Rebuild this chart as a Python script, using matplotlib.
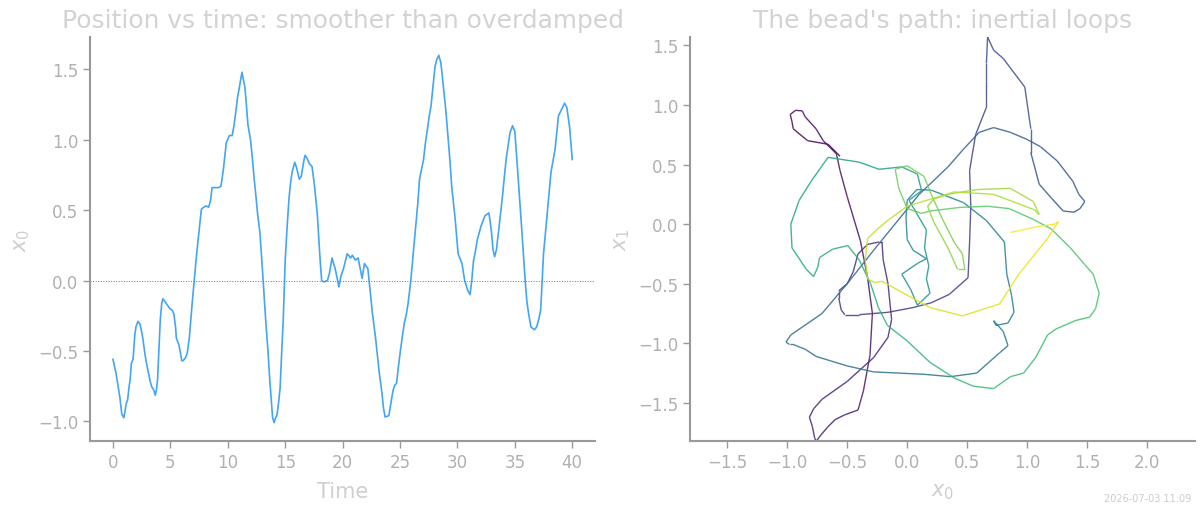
import numpy as np
import matplotlib
matplotlib.use("Agg")
import matplotlib.pyplot as plt
from matplotlib.collections import LineCollection

# ---- data ----
t = [0.0, 0.27, 0.6, 0.77, 0.85, 0.94, 1.05, 1.15, 1.27, 1.4, 1.5, 1.6, 1.75, 1.8, 1.9, 2.0,
     2.18, 2.35, 2.5, 2.6, 2.78, 2.95, 3.1, 3.25, 3.38, 3.5, 3.6, 3.68, 3.78, 3.88, 4.0,
     4.12, 4.25, 4.35, 4.62, 4.95, 5.15, 5.3, 5.45, 5.52, 5.72, 5.85, 5.99, 6.1, 6.3,
     6.46, 6.66, 6.9, 7.13, 7.3, 7.5, 7.7, 7.9, 8.13, 8.33, 8.5, 8.63, 8.97, 9.2, 9.4,
     9.5, 9.63, 9.87, 10.14, 10.38, 10.54, 10.7, 10.85, 11.04, 11.15, 11.24, 11.35,
     11.48, 11.62, 11.75, 11.98, 12.15, 12.3, 12.45, 12.6, 12.8, 13.0, 13.3, 13.5,
     13.66, 13.9, 14.03, 14.15, 14.3, 14.45, 14.56, 14.7, 14.83, 15.0, 15.15, 15.33,
     15.45, 15.6, 15.83, 16.0, 16.23, 16.4, 16.6, 16.73, 16.9, 17.1, 17.34, 17.57,
     17.8, 18.0, 18.1, 18.18, 18.34, 18.68, 18.85, 19.08, 19.35, 19.68, 19.85, 20.08,
     20.4, 20.7, 20.85, 21.1, 21.35, 21.7, 21.9, 22.2, 22.36, 22.6, 22.86, 23.2, 23.43,
     23.55, 23.7, 24.03, 24.27, 24.4, 24.54, 24.7, 24.85, 25.04, 25.2, 25.37, 25.55,
     25.7, 25.94, 26.15, 26.38, 26.55, 26.7, 27.05, 27.2, 27.38, 27.55, 27.7, 27.9,
     28.05, 28.2, 28.38, 28.55, 28.65, 28.8, 29.0, 29.15, 29.35, 29.5, 29.8, 30.06,
     30.4, 30.63, 30.9, 31.1, 31.25, 31.4, 31.55, 31.73, 32.07, 32.4, 32.74, 32.85,
     32.97, 33.1, 33.24, 33.4, 33.57, 33.9, 34.24, 34.58, 34.8, 35.0, 35.3, 35.58,
     35.9, 36.05, 36.2, 36.4, 36.7, 36.9, 37.1, 37.25, 37.5, 37.8, 38.15, 38.5, 38.8,
     39.1, 39.33, 39.53, 39.77, 40.0]

x0 = [-0.56, -0.66, -0.83, -0.95, -0.96, -0.975, -0.93, -0.875, -0.85, -0.76, -0.70, -0.59,
      -0.56, -0.5, -0.39, -0.33, -0.29, -0.31, -0.365, -0.41, -0.52, -0.6, -0.66, -0.72,
      -0.756, -0.77, -0.79, -0.815, -0.78, -0.71, -0.5, -0.28, -0.16, -0.13, -0.16, -0.2,
      -0.21, -0.235, -0.33, -0.41, -0.45, -0.5, -0.57, -0.57, -0.55, -0.52, -0.4, -0.16,
      0.05, 0.2, 0.35, 0.507, 0.52, 0.53, 0.52, 0.57, 0.66, 0.66, 0.66, 0.67, 0.72, 0.80,
      0.98, 1.03, 1.03, 1.10, 1.2, 1.30, 1.39, 1.44, 1.48, 1.43, 1.38, 1.25, 1.11, 1.0,
      0.86, 0.72, 0.6, 0.47, 0.34, 0.1, -0.28, -0.5, -0.71, -0.97, -1.01, -0.98, -0.95,
      -0.85, -0.76, -0.5, -0.28, 0.14, 0.36, 0.58, 0.68, 0.77, 0.84, 0.80, 0.72, 0.74,
      0.84, 0.89, 0.87, 0.83, 0.81, 0.66, 0.47, 0.2, 0.08, 0.0, -0.01, 0.0, 0.05, 0.16,
      0.085, -0.045, 0.03, 0.085, 0.19, 0.16, 0.18, 0.145, 0.16, 0.015, 0.12, 0.085,
      -0.045, -0.235, -0.4, -0.66, -0.8, -0.9, -0.97, -0.96, -0.84, -0.78, -0.745, -0.73,
      -0.62, -0.495, -0.4, -0.305, -0.24, -0.165, 0.0, 0.19, 0.39, 0.55, 0.72, 0.86,
      0.97, 1.07, 1.17, 1.24, 1.40, 1.52, 1.57, 1.6, 1.55, 1.48, 1.36, 1.2, 1.05, 0.85,
      0.67, 0.44, 0.19, 0.12, 0.0, -0.07, -0.10, 0.0, 0.14, 0.2, 0.29, 0.39, 0.46, 0.48,
      0.42, 0.34, 0.22, 0.17, 0.22, 0.34, 0.58, 0.86, 1.05, 1.10, 1.06, 0.72, 0.39, 0.0,
      -0.15, -0.235, -0.33, -0.35, -0.33, -0.27, -0.21, 0.19, 0.46, 0.77, 0.93, 1.17,
      1.22, 1.26, 1.23, 1.09, 0.86]

x1 = [0.57, 0.67, 0.70, 0.80, 0.86, 0.92, 0.955, 0.95, 0.90, 0.80, 0.70, 0.59, 0.45, 0.23,
      -0.14, -0.45, -0.75, -1.1, -1.4, -1.56, -1.6, -1.64, -1.70, -1.77, -1.82, -1.80,
      -1.70, -1.62, -1.55, -1.47, -1.32, -1.12, -0.95, -0.80, -0.5, -0.3, -0.15, -0.15,
      -0.17, -0.25, -0.40, -0.5, -0.56, -0.62, -0.72, -0.76, -0.76, -0.74, -0.70, -0.66,
      -0.59, -0.45, -0.15, 0.15, 0.45, 0.75, 0.98, 1.2, 1.35, 1.57, 1.46, 1.39, 1.15,
      0.80, 0.6, 0.335, 0.22, 0.11, 0.10, 0.13, 0.19, 0.25, 0.36, 0.53, 0.65, 0.71, 0.77,
      0.81, 0.77, 0.63, 0.48, 0.25, -0.22, -0.5, -0.75, -0.93, -0.99, -1.01, -1.01,
      -1.05, -1.11, -1.19, -1.24, -1.26, -1.28, -1.25, -1.16, -1.08, -1.02, -0.9, -0.81,
      -0.85, -0.83, -0.74, -0.6, -0.42, -0.15, 0.03, 0.18, 0.285, 0.29, 0.2, 0.05, -0.13,
      -0.22, -0.29, -0.33, -0.42, -0.55, -0.68, -0.58, -0.46, -0.35, -0.2, -0.05, 0.2,
      0.28, 0.42, 0.48, 0.46, 0.52, 0.56, 0.36, 0.2, 0.0, -0.2, -0.38, -0.44, -0.36,
      -0.28, -0.21, -0.18, -0.3, -0.5, -0.7, -0.85, -0.98, -1.16, -1.29, -1.36, -1.38,
      -1.28, -1.25, -1.12, -0.93, -0.88, -0.81, -0.78, -0.71, -0.58, -0.42, -0.34, -0.2,
      -0.04, 0.04, 0.13, 0.15, 0.14, 0.11, 0.09, 0.13, 0.3, 0.46, 0.49, 0.4, 0.25, 0.05,
      -0.15, -0.25, -0.38, -0.38, -0.2, 0.02, 0.15, 0.21, 0.25, 0.29, 0.30, 0.19, 0.08,
      0.12, 0.25, 0.27, 0.15, 0.04, -0.03, -0.12, -0.3, -0.46, -0.49, -0.48, -0.70,
      -0.77, -0.67, -0.42, -0.12, -0.04, 0.02, 0.0, -0.02, -0.07]

title_left = "Position vs time: smoother than overdamped"
title_right = "The bead's path: inertial loops"
stamp = "2026-07-03 11:09"

# ---- style ----
tick_c = "#b0b0b0"
spine_c = "#999999"
label_c = "#cfcfcf"
title_c = "#d3d3d3"
line_c = "#42a5f5"

plt.rcParams["font.family"] = ["DejaVu Sans"]

fig = plt.figure(figsize=(12, 5.1), dpi=100)
axL = fig.add_axes([0.075, 0.1333, 0.421, 0.7922])
axR = fig.add_axes([0.575, 0.1333, 0.421, 0.7922])

for ax in (axL, axR):
    for s in ("top", "right"):
        ax.spines[s].set_visible(False)
    for s in ("left", "bottom"):
        ax.spines[s].set_color(spine_c)
        ax.spines[s].set_linewidth(1.5)
    ax.tick_params(colors=spine_c, labelcolor=tick_c, labelsize=12, length=5, width=1)

tt = np.array(t)
a0 = np.array(x0)
a1 = np.array(x1)

# left
axL.plot(tt, a0, color=line_c, lw=1.2)
axL.axhline(0.0, color="#777777", lw=0.7, ls=":")
axL.set_xlabel("Time", color=label_c, fontsize=15, labelpad=7)
axL.set_ylabel("$x_0$", color=label_c, fontsize=15)
axL.set_title(title_left, color=title_c, fontsize=17.9, pad=7)
axL.set_xticks([0, 5, 10, 15, 20, 25, 30, 35, 40])
axL.set_yticks([-1.0, -0.5, 0.0, 0.5, 1.0, 1.5])
axL.margins(x=0.05, y=0.05)

# right
pts = np.column_stack([a0, a1]).reshape(-1, 1, 2)
segs = np.concatenate([pts[:-1], pts[1:]], axis=1)
lc = LineCollection(segs, cmap="viridis", linewidths=1.0, alpha=0.85)
lc.set_array((tt[:-1] + tt[1:]) / 2)
lc.set_clim(0, 40)
axR.add_collection(lc)
axR.set_xlim(-1.81, 2.40)
axR.set_ylim(a1.min(), a1.max())
axR.set_xticks([-1.5, -1.0, -0.5, 0.0, 0.5, 1.0, 1.5, 2.0])
axR.set_yticks([-1.5, -1.0, -0.5, 0.0, 0.5, 1.0, 1.5])
axR.set_xlabel("$x_0$", color=label_c, fontsize=15, labelpad=7)
axR.set_ylabel("$x_1$", color=label_c, fontsize=15)
axR.set_title(title_right, color=title_c, fontsize=17.9, pad=7)

fig.text(0.993, 0.012, stamp, ha="right", va="bottom", fontsize=7, color="#cccccc")

fig.savefig("out.png", dpi=100)
